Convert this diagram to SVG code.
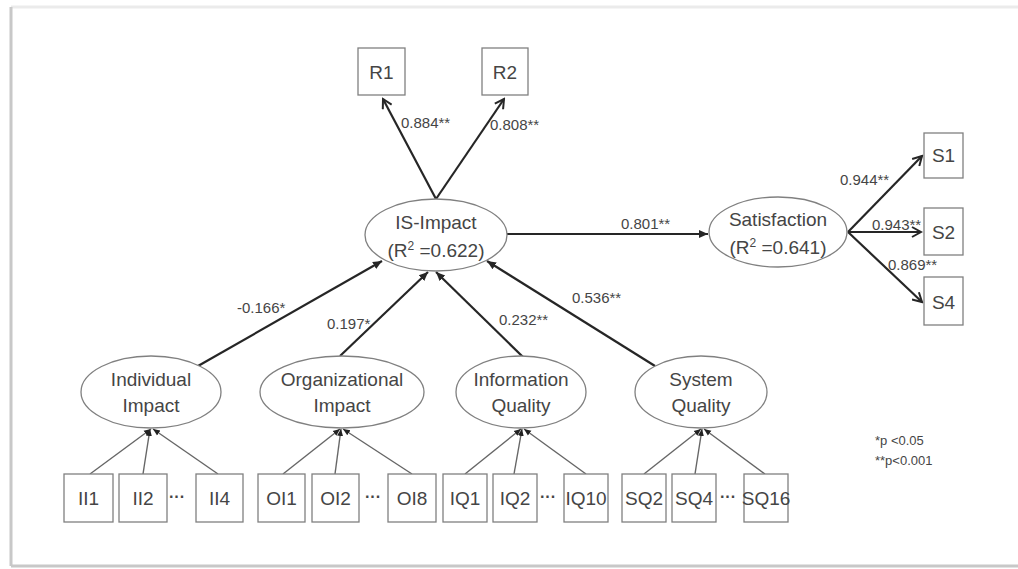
<svg xmlns="http://www.w3.org/2000/svg" width="1018" height="569" viewBox="0 0 1018 569">
<style>
text{font-family:"Liberation Sans",Arial,sans-serif;fill:#454545}
.n{font-size:19px;text-anchor:middle}
.l{font-size:15px}
.lg{font-size:13px}
.dots{font-size:16px;font-weight:bold;text-anchor:middle}
.box{fill:#fff;stroke:#808080;stroke-width:1.3}
.ell{fill:#fff;stroke:#808080;stroke-width:1.3}
.e{stroke:#262626;stroke-width:2.2;fill:none}
.ind{stroke:#666;stroke-width:1.4;fill:none}
</style>
<defs>
<marker id="open" markerWidth="12" markerHeight="12" refX="10" refY="6" orient="auto" markerUnits="userSpaceOnUse">
<path d="M1,1 L10,6 L1,11" fill="none" stroke="#262626" stroke-width="2"/>
</marker>
<marker id="fill" markerWidth="10" markerHeight="10" refX="9" refY="5" orient="auto" markerUnits="userSpaceOnUse">
<path d="M0,1 L9,5 L0,9 Z" fill="#262626"/>
</marker>
<marker id="fs" markerWidth="8" markerHeight="8" refX="7" refY="4" orient="auto" markerUnits="userSpaceOnUse">
<path d="M0,1 L7,4 L0,7 Z" fill="#222"/>
</marker>
</defs>
<rect x="0" y="0" width="1018" height="569" fill="#fff"/>
<g id="frame">
<line x1="11" y1="7" x2="1018" y2="7" stroke="#ebebeb" stroke-width="3"/>
<line x1="11" y1="7" x2="11" y2="566" stroke="#c8c8c8" stroke-width="3"/>
<line x1="11" y1="566" x2="1018" y2="566" stroke="#c8c8c8" stroke-width="3"/>
</g>
<g id="connectors">
<line class="e" x1="436" y1="199" x2="383" y2="99" marker-end="url(#open)"/>
<line class="e" x1="436" y1="199" x2="504" y2="99" marker-end="url(#open)"/>
<line class="e" x1="507" y1="234" x2="708" y2="234" marker-end="url(#fill)"/>
<line class="e" x1="848" y1="232" x2="922" y2="156" marker-end="url(#open)"/>
<line class="e" x1="848" y1="232" x2="921" y2="232" marker-end="url(#open)"/>
<line class="e" x1="848" y1="232" x2="922" y2="302" marker-end="url(#open)"/>
<line class="e" x1="198" y1="366" x2="382" y2="261" marker-end="url(#fill)"/>
<line class="e" x1="340" y1="356" x2="428" y2="272" marker-end="url(#fill)"/>
<line class="e" x1="523" y1="357" x2="436" y2="272" marker-end="url(#fill)"/>
<line class="e" x1="655" y1="366" x2="487" y2="261" marker-end="url(#fill)"/>
<line class="ind" x1="90" y1="474" x2="151" y2="429" marker-end="url(#fs)"/>
<line class="ind" x1="143" y1="474" x2="150" y2="429" marker-end="url(#fs)"/>
<line class="ind" x1="218" y1="474" x2="153" y2="429" marker-end="url(#fs)"/>
<line class="ind" x1="283" y1="474" x2="340" y2="429" marker-end="url(#fs)"/>
<line class="ind" x1="335" y1="474" x2="341" y2="429" marker-end="url(#fs)"/>
<line class="ind" x1="412" y1="474" x2="343" y2="429" marker-end="url(#fs)"/>
<line class="ind" x1="465" y1="474" x2="521" y2="429" marker-end="url(#fs)"/>
<line class="ind" x1="514" y1="474" x2="522" y2="429" marker-end="url(#fs)"/>
<line class="ind" x1="586" y1="474" x2="524" y2="429" marker-end="url(#fs)"/>
<line class="ind" x1="644" y1="474" x2="701" y2="429" marker-end="url(#fs)"/>
<line class="ind" x1="695" y1="474" x2="702" y2="429" marker-end="url(#fs)"/>
<line class="ind" x1="765" y1="474" x2="704" y2="429" marker-end="url(#fs)"/>
<text class="l" x="401" y="128">0.884**</text>
<text class="l" x="490" y="130">0.808**</text>
<text class="l" x="621" y="229">0.801**</text>
<text class="l" x="840" y="185">0.944**</text>
<text class="l" x="872" y="230">0.943**</text>
<text class="l" x="888" y="270">0.869**</text>
<text class="l" x="237" y="313">-0.166*</text>
<text class="l" x="327" y="329">0.197*</text>
<text class="l" x="499" y="325">0.232**</text>
<text class="l" x="572" y="303">0.536**</text>
</g>
<g id="R1"><rect class="box" x="358" y="48" width="47" height="47"/><text class="n" x="381.5" y="79">R1</text></g>
<g id="R2"><rect class="box" x="482" y="48" width="46" height="47"/><text class="n" x="505" y="79">R2</text></g>
<g id="IS-Impact"><ellipse class="ell" cx="436" cy="235" rx="71" ry="36"/><text class="n" x="436" y="229">IS-Impact</text><text class="n" x="436" y="257">(R<tspan font-size="12" dy="-7">2</tspan><tspan dy="7"> =0.622)</tspan></text></g>
<g id="Satisfaction"><ellipse class="ell" cx="778" cy="232" rx="69" ry="35"/><text class="n" x="778" y="226">Satisfaction</text><text class="n" x="778" y="254">(R<tspan font-size="12" dy="-7">2</tspan><tspan dy="7"> =0.641)</tspan></text></g>
<g id="S1"><rect class="box" x="924" y="133" width="39" height="45"/><text class="n" x="943.5" y="162">S1</text></g>
<g id="S2"><rect class="box" x="924" y="208" width="39" height="47"/><text class="n" x="943.5" y="239">S2</text></g>
<g id="S4"><rect class="box" x="924" y="277" width="39" height="48"/><text class="n" x="943.5" y="309">S4</text></g>
<g id="IndividualImpact"><ellipse class="ell" cx="151" cy="392" rx="70" ry="36"/><text class="n" x="151" y="386">Individual</text><text class="n" x="151" y="412">Impact</text></g>
<g id="OrganizationalImpact"><ellipse class="ell" cx="342" cy="392" rx="82" ry="36"/><text class="n" x="342" y="386">Organizational</text><text class="n" x="342" y="412">Impact</text></g>
<g id="InformationQuality"><ellipse class="ell" cx="521" cy="392" rx="65" ry="36"/><text class="n" x="521" y="386">Information</text><text class="n" x="521" y="412">Quality</text></g>
<g id="SystemQuality"><ellipse class="ell" cx="701" cy="392" rx="66" ry="36"/><text class="n" x="701" y="386">System</text><text class="n" x="701" y="412">Quality</text></g>
<g id="II1"><rect class="box" x="64" y="474" width="49" height="48"/><text class="n" x="88.5" y="505">II1</text></g>
<g id="II2"><rect class="box" x="119" y="474" width="48" height="48"/><text class="n" x="143" y="505">II2</text></g>
<g id="II4"><rect class="box" x="196" y="474" width="47" height="48"/><text class="n" x="219.5" y="505">II4</text></g>
<g id="OI1"><rect class="box" x="258" y="474" width="47" height="48"/><text class="n" x="281.5" y="505">OI1</text></g>
<g id="OI2"><rect class="box" x="312" y="474" width="47" height="48"/><text class="n" x="335.5" y="505">OI2</text></g>
<g id="OI8"><rect class="box" x="388" y="474" width="48" height="48"/><text class="n" x="412" y="505">OI8</text></g>
<g id="IQ1"><rect class="box" x="443" y="474" width="44" height="48"/><text class="n" x="465" y="505">IQ1</text></g>
<g id="IQ2"><rect class="box" x="493" y="474" width="44" height="48"/><text class="n" x="515" y="505">IQ2</text></g>
<g id="IQ10"><rect class="box" x="564" y="474" width="44" height="48"/><text class="n" x="586" y="505">IQ10</text></g>
<g id="SQ2"><rect class="box" x="622" y="474" width="44" height="48"/><text class="n" x="644" y="505">SQ2</text></g>
<g id="SQ4"><rect class="box" x="672" y="474" width="44" height="48"/><text class="n" x="694" y="505">SQ4</text></g>
<g id="SQ16"><rect class="box" x="744" y="474" width="44" height="48"/><text class="n" x="766" y="505">SQ16</text></g>
<g id="ellipses">
<text class="dots" x="177" y="502">···</text>
<text class="dots" x="373" y="502">···</text>
<text class="dots" x="548" y="502">···</text>
<text class="dots" x="728" y="502">···</text>
</g>
<g id="legend">
<text class="lg" x="875" y="445">*p &lt;0.05</text>
<text class="lg" x="875" y="465">**p&lt;0.001</text>
</g>
</svg>
